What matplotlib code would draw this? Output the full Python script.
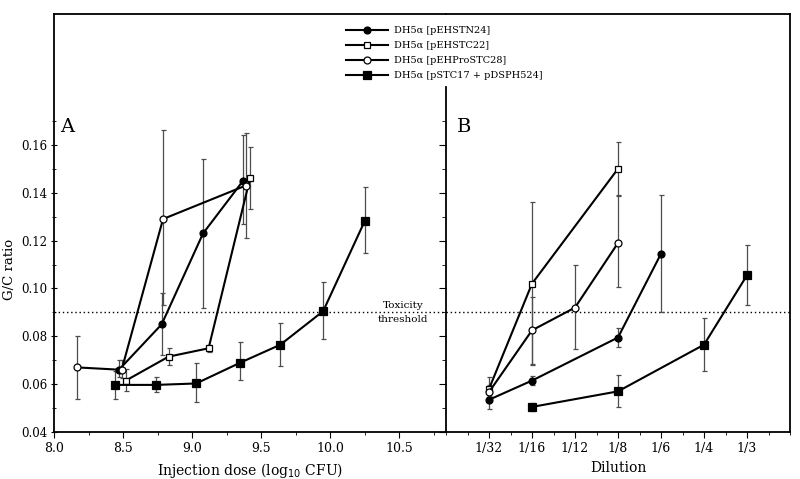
import numpy as np
import matplotlib
matplotlib.use("Agg")
import matplotlib.pyplot as plt
from matplotlib.ticker import MultipleLocator, FixedLocator

plt.rcParams['font.family'] = ['DejaVu Serif']

names = ['DH5α [pEHSTN24]', 'DH5α [pEHSTC22]',
         'DH5α [pEHProSTC28]', 'DH5α [pSTC17 + pDSPH524]']
markers = ['o', 's', 'o', 's']
faces = ['black', 'white', 'white', 'black']
msizes = [5, 5, 5, 5.5]

# panel A: injection dose (log10 CFU) vs G/C ratio
a_x = [[8.47, 8.78, 9.08, 9.37],
       [8.52, 8.83, 9.12, 9.42],
       [8.17, 8.49, 8.79, 9.39],
       [8.44, 8.74, 9.03, 9.35, 9.64, 9.95, 10.25]]
a_y = [[0.066, 0.085, 0.123, 0.145],
       [0.0615, 0.0715, 0.075, 0.146],
       [0.067, 0.066, 0.129, 0.143],
       [0.0597, 0.0597, 0.0603, 0.069, 0.0765, 0.0905, 0.128]]
a_lo = [[0.063, 0.072, 0.092, 0.127],
        [0.057, 0.068, 0.0735, 0.133],
        [0.054, 0.0625, 0.093, 0.121],
        [0.0537, 0.0566, 0.0527, 0.0617, 0.0676, 0.0788, 0.1147]]
a_hi = [[0.070, 0.098, 0.154, 0.164],
        [0.0665, 0.075, 0.0765, 0.159],
        [0.080, 0.070, 0.166, 0.165],
        [0.0656, 0.0629, 0.0687, 0.0778, 0.0854, 0.1026, 0.1423]]

# panel B: dilution vs G/C ratio
dilutions = ['1/32', '1/16', '1/12', '1/8', '1/6', '1/4', '1/3']
b_x = [['1/32', '1/16', '1/8', '1/6'],
       ['1/32', '1/16', '1/8'],
       ['1/32', '1/16', '1/12', '1/8'],
       ['1/16', '1/8', '1/4', '1/3']]
b_y = [[0.0535, 0.0615, 0.0795, 0.1145],
       [0.058, 0.102, 0.150],
       [0.0567, 0.0825, 0.092, 0.119],
       [0.0505, 0.057, 0.0765, 0.1055]]
b_lo = [[0.0495, 0.0595, 0.0755, 0.090],
        [0.055, 0.068, 0.139],
        [0.054, 0.0685, 0.0745, 0.1005],
        [0.049, 0.0505, 0.0655, 0.093]]
b_hi = [[0.0565, 0.0635, 0.0835, 0.139],
        [0.063, 0.136, 0.161],
        [0.0595, 0.0965, 0.110, 0.1385],
        [0.052, 0.064, 0.0875, 0.118]]

threshold = 0.09
yticks = [0.04, 0.06, 0.08, 0.10, 0.12, 0.14, 0.16]
yminor = [0.05, 0.07, 0.09, 0.11, 0.13, 0.15, 0.17]

fig = plt.figure(figsize=(8, 4.79), dpi=100)
axA = fig.add_axes([0.0675, 0.098, 0.49, 0.873])
axB = fig.add_axes([0.5575, 0.098, 0.43, 0.873])


def draw(ax, xs, ys, los, his):
    handles = []
    for i in range(4):
        x = np.array(xs[i])
        y = np.array(ys[i])
        err = [y - np.array(los[i]), np.array(his[i]) - y]
        ax.errorbar(x, y, yerr=err, fmt='none', ecolor='0.3',
                    elinewidth=0.9, capsize=1.8, capthick=0.9, zorder=2)
        h, = ax.plot(x, y, color='black', lw=1.5, marker=markers[i],
                     ms=msizes[i], mfc=faces[i], mec='black', mew=0.9,
                     zorder=3, label=names[i])
        handles.append(h)
    return handles


handles = draw(axA, a_x, a_y, a_lo, a_hi)
pos = {d: k for k, d in enumerate(dilutions)}
draw(axB, [[pos[d] for d in row] for row in b_x], b_y, b_lo, b_hi)

for ax in (axA, axB):
    ax.set_ylim(0.04, 0.2147)
    ax.axhline(threshold, color='black', lw=1, ls=(0, (1, 2)), zorder=1)
    ax.yaxis.set_major_locator(FixedLocator(yticks))
    ax.yaxis.set_minor_locator(FixedLocator(yminor))
    for s in ax.spines.values():
        s.set_linewidth(1.3)

axA.set_xlim(8.0, 10.84)
axA.xaxis.set_major_locator(MultipleLocator(0.5))
axA.xaxis.set_minor_locator(MultipleLocator(0.25))
axA.xaxis.set_major_formatter(plt.FormatStrFormatter('%.1f'))
axA.yaxis.set_major_formatter(plt.FormatStrFormatter('%.2f'))
axA.spines['right'].set_visible(False)
axA.tick_params(axis='y', which='major', direction='inout', length=5, labelsize=8.5, pad=2)
axA.tick_params(axis='y', which='minor', direction='inout', length=3)
axA.tick_params(axis='x', which='major', direction='out', length=4, labelsize=9)
axA.tick_params(axis='x', which='minor', direction='out', length=2.5)
axA.set_xlabel('Injection dose (log$_{10}$ CFU)', fontsize=10)
axA.set_ylabel('G/C ratio', fontsize=9.5)
axA.yaxis.set_label_coords(-0.098, 0.39)
axA.text(0.015, 0.718, 'A', transform=axA.transAxes, fontsize=14)
axA.text(10.53, threshold + 0.001, 'Toxicity', ha='center', va='bottom', fontsize=7.5)
axA.text(10.53, threshold - 0.001, 'threshold', ha='center', va='top', fontsize=7.5)

axB.set_xlim(-1, 7)
axB.set_xticks(range(len(dilutions)))
axB.set_xticklabels(dilutions)
axB.xaxis.set_minor_locator(MultipleLocator(0.5))
axB.spines['left'].set_bounds(0.04, 0.184)
axB.tick_params(axis='y', which='major', direction='out', length=5, labelleft=False)
axB.tick_params(axis='y', which='minor', direction='out', length=3)
axB.tick_params(axis='x', which='major', direction='out', length=4, labelsize=9)
axB.tick_params(axis='x', which='minor', direction='out', length=2.5)
axB.set_xlabel('Dilution', fontsize=10)
axB.text(0.032, 0.718, 'B', transform=axB.transAxes, fontsize=14)

fig.legend(handles=handles, loc='upper left', bbox_to_anchor=(0.427, 0.955),
           frameon=False, fontsize=7, handlelength=4.3, labelspacing=0.6,
           handletextpad=0.6, borderpad=0)

fig.savefig('out.png', dpi=100)
